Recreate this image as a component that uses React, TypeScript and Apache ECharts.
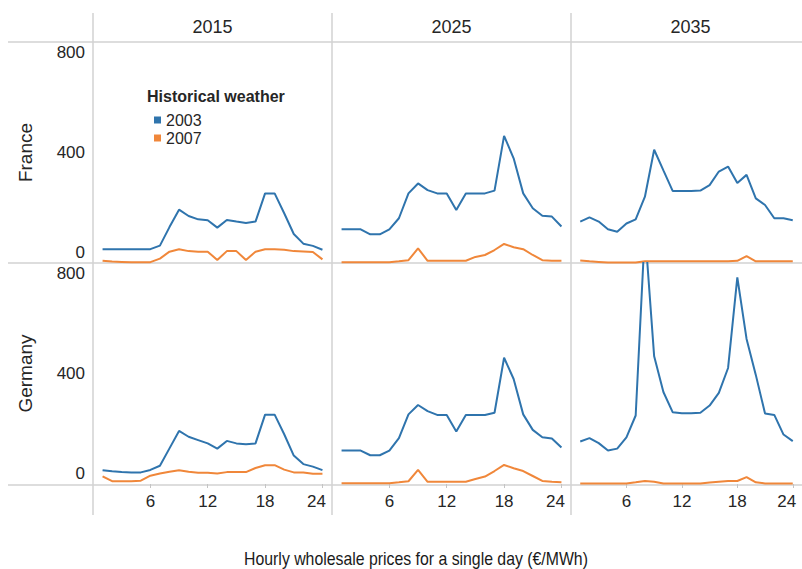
import React, { useEffect, useRef } from "react";
import * as echarts from "echarts";

// ---- data ----
const hours = [1, 2, 3, 4, 5, 6, 7, 8, 9, 10, 11, 12, 13, 14, 15, 16, 17, 18, 19, 20, 21, 22, 23, 24];
const columnYears = ["2015", "2025", "2035"];
const countries = ["France", "Germany"];
const weatherYears = ["2003", "2007"];
const xTickLabels = [6, 12, 18, 24];
const yTickLabels = [0, 400, 800];

const france2015w2003 = [50, 50, 50, 50, 50, 50, 63, 130, 193, 170, 158, 155, 128, 156, 150, 145, 150, 252, 252, 180, 105, 70, 62, 48];
const france2015w2007 = [8, 5, 4, 3, 3, 3, 16, 41, 50, 43, 41, 41, 11, 43, 43, 11, 41, 50, 50, 48, 43, 42, 40, 13];
const france2025w2003 = [122, 122, 122, 104, 104, 122, 162, 252, 288, 264, 252, 252, 192, 252, 252, 252, 262, 460, 379, 252, 198, 171, 168, 132];
const france2025w2007 = [3, 3, 3, 3, 3, 3, 6, 10, 53, 8, 8, 8, 8, 8, 22, 29, 47, 69, 57, 50, 29, 10, 8, 8];
const france2035w2003 = [150, 165, 150, 122, 113, 143, 158, 240, 410, 335, 261, 261, 261, 262, 282, 331, 349, 290, 319, 234, 210, 162, 162, 155];
const france2035w2007 = [9, 6, 4, 2, 2, 2, 2, 6, 6, 6, 6, 6, 6, 6, 6, 6, 6, 8, 25, 6, 6, 6, 6, 6];
const germany2015w2003 = [50, 46, 43, 42, 42, 51, 66, 129, 192, 171, 159, 147, 128, 156, 147, 144, 147, 251, 251, 180, 103, 72, 63, 50];
const germany2015w2007 = [28, 10, 10, 10, 12, 30, 38, 44, 50, 44, 41, 41, 38, 43, 43, 43, 58, 68, 68, 52, 42, 42, 37, 37];
const germany2025w2003 = [121, 121, 121, 104, 104, 121, 166, 252, 286, 264, 250, 250, 190, 250, 250, 250, 258, 457, 380, 252, 196, 169, 165, 132];
const germany2025w2007 = [3, 3, 3, 3, 3, 3, 6, 10, 51, 8, 8, 8, 8, 8, 18, 27, 47, 69, 57, 47, 29, 11, 8, 6];
const germany2035w2003 = [154, 166, 148, 121, 128, 169, 248, 920, 462, 333, 260, 256, 256, 258, 284, 330, 420, 748, 525, 395, 255, 250, 179, 155];
const germany2035w2007 = [2, 2, 2, 2, 2, 2, 6, 11, 8, 2, 2, 2, 2, 2, 5, 8, 11, 11, 25, 6, 2, 2, 2, 2];

// [row][col][weather]
const panelValues = [
  [
    [france2015w2003, france2015w2007],
    [france2025w2003, france2025w2007],
    [france2035w2003, france2035w2007],
  ],
  [
    [germany2015w2003, germany2015w2007],
    [germany2025w2003, germany2025w2007],
    [germany2035w2003, germany2035w2007],
  ],
];

const colors = ["#2f74ad", "#f0873a"];
const FONT = '"Liberation Sans", Arial, Helvetica, sans-serif';
const TEXT = "#262626";
const LINE = "#d2d2d2";

const colLeft = [93, 332, 571];
const colWidth = 239;
const rowTop = [42, 263];
const rowHeight = 221;

export default function App() {
  const ref = useRef<HTMLDivElement>(null);

  useEffect(() => {
    if (!ref.current) return;
    const chart = echarts.init(ref.current, null, { renderer: "svg" });

    const grids: any[] = [];
    const xAxes: any[] = [];
    const yAxes: any[] = [];
    const series: any[] = [];

    for (let r = 0; r < countries.length; r++) {
      for (let c = 0; c < columnYears.length; c++) {
        const idx = grids.length;
        grids.push({ left: colLeft[c], top: rowTop[r], width: colWidth, height: rowHeight, containLabel: false });
        const bottom = r === countries.length - 1;
        xAxes.push({
          gridIndex: idx,
          type: "value",
          min: 0,
          max: 25,
          interval: 6,
          axisLine: { show: false },
          splitLine: { show: false },
          axisTick: {
            show: bottom,
            length: 4,
            customValues: xTickLabels,
            lineStyle: { color: "#c4c4c4", width: 1 },
          },
          axisLabel: {
            show: bottom,
            customValues: xTickLabels,
            margin: 9,
            fontSize: 17,
            fontFamily: FONT,
            color: TEXT,
            formatter: (v: number) => {
              if (xTickLabels.indexOf(v) < 0) return "";
              return v === 24 ? "{r|24}" : String(v);
            },
            rich: { r: { padding: [0, 12, 0, 0], fontSize: 17, fontFamily: FONT, color: TEXT } },
          },
        });
        yAxes.push({
          gridIndex: idx,
          type: "value",
          min: 0,
          max: 800,
          interval: 400,
          axisLine: { show: false },
          axisTick: { show: false },
          splitLine: { show: false },
          axisLabel: {
            show: c === 0,
            margin: 8,
            fontSize: 17,
            lineHeight: 15,
            padding: [3, 0, 3, 0],
            fontFamily: FONT,
            color: TEXT,
            verticalAlignMinLabel: "bottom",
            verticalAlignMaxLabel: "top",
            formatter: (v: number) => (yTickLabels.indexOf(v) >= 0 ? String(v) : ""),
          },
        });
        for (let w = 0; w < weatherYears.length; w++) {
          const vals = panelValues[r][c][w];
          series.push({
            type: "line",
            name: weatherYears[w],
            xAxisIndex: idx,
            yAxisIndex: idx,
            data: hours.map((h, i) => [h, vals[i]]),
            showSymbol: false,
            symbol: "none",
            clip: true,
            z: w === 0 ? 3 : 2,
            lineStyle: { color: colors[w], width: 2 },
            itemStyle: { color: colors[w] },
          });
        }
      }
    }

    const graphics: any[] = [];
    // frame lines
    [42, 263, 485].forEach((y) =>
      graphics.push({ type: "line", silent: true, z: 0, shape: { x1: 8, y1: y, x2: 802, y2: y }, style: { stroke: LINE, lineWidth: 1.5 } })
    );
    colLeft.forEach((x) =>
      graphics.push({ type: "line", silent: true, z: 0, shape: { x1: x, y1: 13, x2: x, y2: 515 }, style: { stroke: LINE, lineWidth: 1.5 } })
    );
    // column headers
    columnYears.forEach((yr, c) =>
      graphics.push({
        type: "text",
        x: colLeft[c] + colWidth / 2,
        y: 27,
        style: { text: yr, align: "center", verticalAlign: "middle", fontSize: 18, fontFamily: FONT, fill: TEXT },
      })
    );
    // row labels
    countries.forEach((name, r) =>
      graphics.push({
        type: "text",
        x: 25,
        y: rowTop[r] + rowHeight / 2,
        rotation: Math.PI / 2,
        style: { text: name, align: "center", verticalAlign: "middle", fontSize: 19, fontFamily: FONT, fill: TEXT },
      })
    );
    // legend title
    graphics.push({
      type: "text",
      x: 147,
      y: 96,
      style: { text: "Historical weather", align: "left", verticalAlign: "middle", fontSize: 16, fontWeight: "bold", fontFamily: FONT, fill: TEXT },
    });
    // x axis title
    graphics.push({
      type: "text",
      x: 416,
      y: 559,
      scaleX: 0.88,
      style: {
        text: "Hourly wholesale prices for a single day (€/MWh)",
        align: "center",
        verticalAlign: "middle",
        fontSize: 18,
        fontFamily: FONT,
        fill: "#1a1a1a",
      },
    });

    chart.setOption({
      animation: false,
      backgroundColor: "#ffffff",
      grid: grids,
      xAxis: xAxes,
      yAxis: yAxes,
      series,
      legend: {
        data: weatherYears,
        orient: "vertical",
        left: 149,
        top: 107,
        icon: "rect",
        itemWidth: 7,
        itemHeight: 7,
        itemGap: 2,
        selectedMode: false,
        textStyle: { fontSize: 16, lineHeight: 16, fontFamily: FONT, color: TEXT },
      },
      graphic: graphics,
    });

    return () => chart.dispose();
  }, []);

  return <div ref={ref} style={{ position: "absolute", left: 0, top: 0, width: 802, height: 569 }} />;
}
